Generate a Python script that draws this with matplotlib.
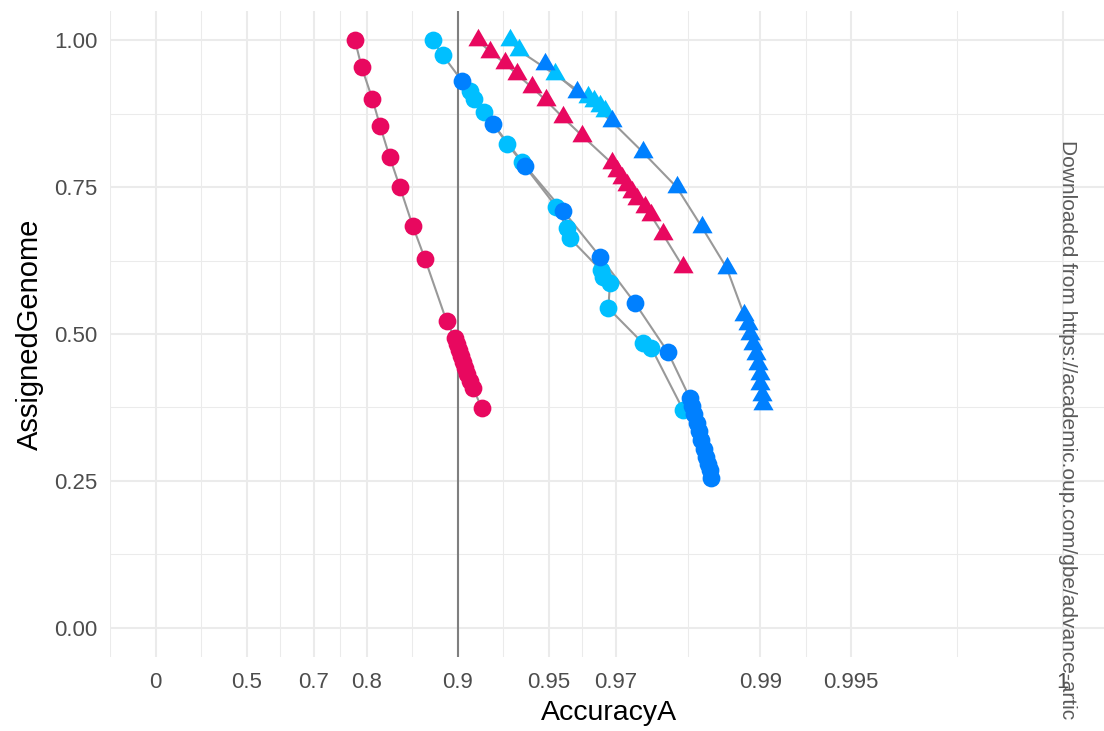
import numpy as np
import matplotlib
matplotlib.use("Agg")
import matplotlib.pyplot as plt
from matplotlib.path import Path

# ---------------- data (AccuracyA, AssignedGenome) ----------------
red_circ_acc = [0.781, 0.792, 0.808, 0.819, 0.832, 0.8445, 0.859, 0.8715, 0.891, 0.8977,
                0.8992, 0.9008, 0.9022, 0.9037, 0.9052, 0.9066, 0.9087, 0.9108, 0.9167]
red_circ_gen = [1.000, 0.954, 0.901, 0.855, 0.801, 0.750, 0.684, 0.628, 0.522, 0.493,
                0.483, 0.473, 0.463, 0.452, 0.442, 0.432, 0.420, 0.408, 0.374]

red_tri_acc = [0.9141, 0.9216, 0.9301, 0.9362, 0.9431, 0.9488, 0.9550, 0.9611, 0.9690,
               0.9702, 0.9713, 0.9724, 0.9734, 0.9744, 0.9759, 0.9770, 0.9790, 0.9820]
red_tri_gen = [1.000, 0.981, 0.961, 0.942, 0.920, 0.898, 0.869, 0.838, 0.791,
               0.777, 0.765, 0.753, 0.741, 0.730, 0.716, 0.702, 0.670, 0.614]

lb_circ_acc = [0.8787, 0.8877, 0.9087, 0.9114, 0.9183, 0.9313, 0.9384, 0.9528, 0.9563,
               0.9574, 0.9663, 0.9668, 0.9686, 0.9682, 0.9756, 0.9771, 0.9820]
lb_circ_gen = [1.000, 0.975, 0.913, 0.901, 0.878, 0.824, 0.793, 0.716, 0.681,
               0.663, 0.609, 0.597, 0.587, 0.544, 0.484, 0.476, 0.371]

db_circ_acc = [0.9034, 0.9234, 0.9402, 0.9551, 0.9662, 0.9741, 0.9798, 0.9829, 0.9832,
               0.9834, 0.9838, 0.9840, 0.9843, 0.9846, 0.9849, 0.9851, 0.9853, 0.9855]
db_circ_gen = [0.930, 0.858, 0.786, 0.710, 0.631, 0.552, 0.469, 0.391, 0.378,
               0.364, 0.349, 0.335, 0.320, 0.304, 0.291, 0.279, 0.269, 0.255]

lb_tri_acc = [0.9327, 0.9371, 0.9522, 0.9628, 0.9645, 0.9661, 0.9673]
lb_tri_gen = [1.000, 0.983, 0.942, 0.903, 0.896, 0.888, 0.879]

db_tri_acc = [0.9484, 0.9597, 0.9690, 0.9755, 0.9811, 0.9844, 0.9871, 0.9887, 0.9890,
              0.9892, 0.9894, 0.9897, 0.9898, 0.9900, 0.9900, 0.9901, 0.9902]
db_tri_gen = [0.959, 0.912, 0.862, 0.810, 0.750, 0.682, 0.612, 0.532, 0.517,
              0.500, 0.483, 0.466, 0.449, 0.432, 0.415, 0.396, 0.381]

x_breaks = [0, 0.5, 0.7, 0.8, 0.9, 0.95, 0.97, 0.99, 0.995, 0.999]
x_labels = ["0", "0.5", "0.7", "0.8", "0.9", "0.95", "0.97", "0.99", "0.995", "1"]
y_breaks = [0.0, 0.25, 0.5, 0.75, 1.0]
y_labels = ["0.00", "0.25", "0.50", "0.75", "1.00"]
vline_x = 0.9

RED = "#E8085F"
LBLUE = "#00BFFF"
DBLUE = "#0080FF"
LINE = "#999999"

plt.rcParams["font.family"] = ["Liberation Sans", "DejaVu Sans"]


def fwd(x):
    x = np.asarray(x, dtype=float)
    return -np.log10(np.clip(1.0 - x, 1e-12, None))


def inv(t):
    t = np.asarray(t, dtype=float)
    return 1.0 - 10.0 ** (-t)


W, H = 1104, 731
fig = plt.figure(figsize=(W / 100, H / 100), dpi=100)
pl, pr, pt, pb = 110, 1108, 11, 657
ax = fig.add_axes([pl / W, 1 - pb / H, (pr - pl) / W, (pb - pt) / H])
ax.set_xscale("function", functions=(fwd, inv))
ax.set_xlim(inv(-0.15), inv(3.15))
ax.set_ylim(-0.05, 1.05)

# grid
tb = fwd(x_breaks)
mids = list((tb[:-1] + tb[1:]) / 2)
mids = [tb[0] - (tb[1] - tb[0]) / 2] + mids
ax.set_xticks(x_breaks)
ax.set_xticklabels(x_labels)
ax.set_xticks(inv(np.array(mids)), minor=True)
ax.set_yticks(y_breaks)
ax.set_yticklabels(y_labels)
ax.set_yticks([0.125, 0.375, 0.625, 0.875], minor=True)
ax.grid(True, which="major", color="#EBEBEB", linewidth=1.45, zorder=0)
ax.grid(True, which="minor", color="#EBEBEB", linewidth=0.75, zorder=0)
ax.set_axisbelow(True)
for s in ax.spines.values():
    s.set_visible(False)
ax.tick_params(which="both", length=0)
ax.tick_params(axis="x", pad=10.5, labelsize=16, labelcolor="#4D4D4D")
ax.tick_params(axis="y", pad=9, labelsize=16, labelcolor="#4D4D4D")

ax.axvline(vline_x, color="#7F7F7F", linewidth=1.5, zorder=1)

tri = Path([(0, 1), (0.866, -0.5), (-0.866, -0.5), (0, 1)],
           [Path.MOVETO, Path.LINETO, Path.LINETO, Path.CLOSEPOLY])

series = [
    (red_circ_acc, red_circ_gen, RED, "o"),
    (red_tri_acc, red_tri_gen, RED, "t"),
    (lb_circ_acc, lb_circ_gen, LBLUE, "o"),
    (lb_tri_acc, lb_tri_gen, LBLUE, "t"),
    (db_circ_acc, db_circ_gen, DBLUE, "o"),
    (db_tri_acc, db_tri_gen, DBLUE, "t"),
]
for xs, ys, c, m in series:
    ax.plot(xs, ys, color=LINE, linewidth=1.5, zorder=2, solid_capstyle="butt")
for xs, ys, c, m in series:
    if m == "o":
        ax.plot(xs, ys, linestyle="none", marker="o", markersize=12.8,
                markerfacecolor=c, markeredgewidth=0, zorder=3)
    else:
        ax.plot(xs, ys, linestyle="none", marker=tri, markersize=16.8,
                markerfacecolor=c, markeredgewidth=0, zorder=3)

ax.set_xlabel("AccuracyA", fontsize=20.5, color="black")
ax.set_ylabel("AssignedGenome", fontsize=21, color="black")
ax.xaxis.set_label_coords(0.5, -(713 - pb) / (pb - pt))
ax.xaxis.label.set_verticalalignment("center")
ax.yaxis.set_label_coords(-(pl - 30) / (pr - pl), 0.5)
ax.yaxis.label.set_verticalalignment("center")

fig.text(1068 / W, 1 - 140 / H, "Downloaded from https://academic.oup.com/gbe/advance-artic",
         rotation=270, ha="center", va="top", fontsize=15, color="#5A5A5A")

fig.savefig("out.png", dpi=100)
